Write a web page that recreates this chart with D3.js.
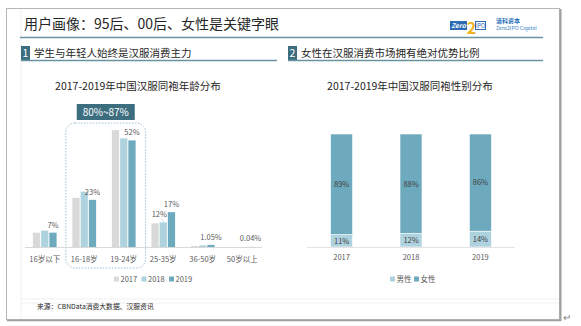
<!DOCTYPE html>
<html lang="zh">
<head>
<meta charset="utf-8">
<style>
  html, body { margin: 0; padding: 0; background: #fff; }
  svg { display: block; font-family: "Noto Sans CJK SC", "Noto Sans", sans-serif; }
</style>
<script src="https://d3js.org/d3.v7.min.js"></script>
</head>
<body>
<svg width="581" height="326"></svg>
<script>
// age distribution, share of users per age group (%)
var ageGroups = ['16岁以下', '16-18岁', '19-24岁', '25-35岁', '36-50岁', '50岁以上'];
var years = ['2017', '2018', '2019'];
var age2017 = [7, 24, 57, 11.5, 0.5, 0.02];
var age2018 = [8, 27, 53, 12, 0.8, 0.03];
var age2019 = [7, 23, 52, 17, 1.05, 0.04];
// which bars carry a value label: [group, year]
var labelled = [['16岁以下', '2019'], ['16-18岁', '2019'], ['19-24岁', '2019'],
  ['25-35岁', '2018'], ['25-35岁', '2019'], ['36-50岁', '2019'], ['50岁以上', '2019']];
var coreGroups = ['16-18岁', '19-24岁'];
var coreText = '80%~87%';

// gender split per year (%)
var genderYears = ['2017', '2018', '2019'];
var male = [11, 12, 14];
var female = [89, 88, 86];
var genders = ['男性', '女性'];

var svg = d3.select('svg');
var ink = '#262626', grey = '#595959', teal = '#3d6e80', rule = '#6a93a2';
var small = 7.5;
var yearColor = d3.scaleOrdinal().domain(years).range(['#d9d9d9', '#aed3df', '#6eaabe']);
var sexColor = d3.scaleOrdinal().domain(genders).range(['#aed3df', '#6eaabe']);

// slide frame + guide lines
svg.append('line').attr('x1', 21).attr('x2', 21).attr('y1', 8).attr('y2', 320)
  .attr('stroke', '#efefef');
[299, 303].forEach(function(y) {
  svg.append('line').attr('x1', 21).attr('x2', 559).attr('y1', y).attr('y2', y)
    .attr('stroke', '#f0f0f0');
});
svg.append('rect').attr('x', 6.5).attr('y', 8.5).attr('width', 553).attr('height', 311)
  .attr('fill', 'none').attr('stroke', '#b5b5b5');
svg.append('line').attr('x1', 560.5).attr('x2', 560.5).attr('y1', 9).attr('y2', 321)
  .attr('stroke', '#a0a0a0').attr('stroke-width', 2);
svg.append('line').attr('x1', 7).attr('x2', 561).attr('y1', 320.5).attr('y2', 320.5)
  .attr('stroke', '#a0a0a0').attr('stroke-width', 1.5);
svg.append('text').attr('x', 563).attr('y', 321).attr('font-size', 10)
  .attr('fill', '#7f7f7f').text('↵');

// heading
svg.append('text').attr('x', 24).attr('y', 29).attr('font-size', 14).attr('fill', ink)
  .text('用户画像：95后、00后、女性是关键字眼');
svg.append('line').attr('x1', 20).attr('x2', 543).attr('y1', 37.5).attr('y2', 37.5)
  .attr('stroke', rule).attr('stroke-width', 1.5);

// logo
var logo = svg.append('g').attr('transform', 'translate(450,21)');
logo.append('rect').attr('width', 17).attr('height', 9).attr('fill', '#2b6cb3');
logo.append('text').attr('x', 8.5).attr('y', 7).attr('text-anchor', 'middle')
  .attr('font-size', 6.5).attr('font-style', 'italic').attr('font-weight', 'bold')
  .attr('fill', '#fff').text('Zero');
logo.append('text').attr('x', 21.5).attr('y', 12.5).attr('text-anchor', 'middle')
  .attr('font-size', 16).attr('font-weight', 'bold').attr('fill', '#f0b323').text('2');
logo.append('rect').attr('x', 25.5).attr('y', 0.5).attr('width', 10).attr('height', 8)
  .attr('fill', '#fff').attr('stroke', '#2b6cb3');
logo.append('text').attr('x', 30.5).attr('y', 6.8).attr('text-anchor', 'middle')
  .attr('font-size', 5.5).attr('fill', '#2b6cb3').text('IPO');
svg.append('text').attr('x', 496).attr('y', 23).attr('font-size', 6).attr('font-weight', 'bold')
  .attr('fill', '#1f6fb8').text('清科资本');
svg.append('text').attr('x', 496).attr('y', 29.5).attr('font-size', 5.2)
  .attr('fill', '#3b82c4').text('Zero2IPO Capital');

// section headers
function section(x, x2, num, title) {
  svg.append('rect').attr('x', x).attr('y', 46).attr('width', 9).attr('height', 14).attr('fill', teal);
  svg.append('text').attr('x', x + 4.5).attr('y', 57).attr('text-anchor', 'middle')
    .attr('font-size', 10.5).attr('fill', '#fff').text(num);
  svg.append('text').attr('x', x + 13).attr('y', 57).attr('font-size', 10.5).attr('fill', ink).text(title);
  svg.append('line').attr('x1', x).attr('x2', x2).attr('y1', 60.5).attr('y2', 60.5)
    .attr('stroke', rule).attr('stroke-width', 1.5);
}
section(21, 277, '1', '学生与年轻人始终是汉服消费主力');
section(288, 543, '2', '女性在汉服消费市场拥有绝对优势比例');

// ---- left: age distribution ----
var base = 247;
var ageRows = ageGroups.map(function(g, i) {
  return { group: g, values: { '2017': age2017[i], '2018': age2018[i], '2019': age2019[i] } };
});
var x0 = d3.scaleBand().domain(ageGroups).range([25, 262]).paddingInner(0.4).paddingOuter(0.2);
var x1 = d3.scaleBand().domain(years).range([0, x0.bandwidth()]).paddingInner(0.12);
var y = d3.scaleLinear().domain([0, 60]).range([base, 124]);

svg.append('text').attr('x', 138).attr('y', 90).attr('text-anchor', 'middle')
  .attr('font-size', 10.5).attr('fill', ink).text('2017-2019年中国汉服同袍年龄分布');

// highlighted core age band
var bx = x0(coreGroups[0]) - 6.5, bx2 = x0(coreGroups[1]) + x0.bandwidth() + 10;
svg.append('rect').attr('x', bx).attr('y', 123).attr('width', bx2 - bx).attr('height', 145)
  .attr('rx', 9).attr('fill', 'none').attr('stroke', '#9cc2d0').attr('stroke-dasharray', '1.5,1.5');
svg.append('rect').attr('x', (bx + bx2) / 2 - 29).attr('y', 104).attr('width', 58).attr('height', 16)
  .attr('fill', teal);
svg.append('text').attr('x', (bx + bx2) / 2).attr('y', 116).attr('text-anchor', 'middle')
  .attr('font-size', 10).attr('fill', '#fff').text(coreText);

var groups = svg.append('g').selectAll('g').data(ageRows).enter().append('g')
  .attr('transform', function(d) { return 'translate(' + x0(d.group) + ',0)'; });
groups.selectAll('rect').data(function(d) {
  return years.map(function(yr) { return { year: yr, value: d.values[yr] }; });
}).enter().append('rect')
  .attr('x', function(d) { return x1(d.year); })
  .attr('y', function(d) { return y(d.value); })
  .attr('width', x1.bandwidth())
  .attr('height', function(d) { return base - y(d.value); })
  .attr('fill', function(d) { return yearColor(d.year); });

svg.append('line').attr('x1', 25).attr('x2', 262).attr('y1', base + 0.5).attr('y2', base + 0.5)
  .attr('stroke', '#d9d9d9');

// value labels; the 2018 one in 25-35 sits left with a short leader
labelled.forEach(function(l) {
  var i = ageGroups.indexOf(l[0]);
  var v = ageRows[i].values[l[1]];
  var cx = x0(l[0]) + x1(l[1]) + x1.bandwidth() / 2;
  var top = y(v);
  var lx = cx, ly = top - 5;
  if (l[1] === '2018') {
    lx = cx - 4; ly = top - 5;
    svg.append('line').attr('x1', cx - 2).attr('y1', top - 4).attr('x2', cx + 0.5).attr('y2', top - 0.5)
      .attr('stroke', '#bfbfbf').attr('stroke-width', 0.6);
  }
  if (v < 1) ly = base - 6;
  svg.append('text').attr('x', lx).attr('y', ly).attr('text-anchor', 'middle')
    .attr('font-size', small).attr('fill', grey).text(v + '%');
});

svg.append('g').selectAll('text').data(ageGroups).enter().append('text')
  .attr('x', function(d) { return x0(d) + x0.bandwidth() / 2; })
  .attr('y', 261.5).attr('text-anchor', 'middle').attr('font-size', small).attr('fill', grey)
  .text(function(d) { return d; });

var legL = svg.append('g').selectAll('g').data(years).enter().append('g')
  .attr('transform', function(d, i) { return 'translate(' + (114 + i * 27.5) + ',276.5)'; });
legL.append('rect').attr('width', 5).attr('height', 5).attr('fill', function(d) { return yearColor(d); });
legL.append('text').attr('x', 6.5).attr('y', 5.3).attr('font-size', small).attr('fill', grey)
  .text(function(d) { return d; });

// ---- right: gender split ----
var genderRows = genderYears.map(function(yr, i) { return { year: yr, '男性': male[i], '女性': female[i] }; });
var stack = d3.stack().keys(genders)(genderRows);
var gx = d3.scaleBand().domain(genderYears).range([307, 515]).paddingInner(0.683).paddingOuter(0.34);
var gy = d3.scaleLinear().domain([0, 100]).range([base, 134]);

svg.append('text').attr('x', 410).attr('y', 90).attr('text-anchor', 'middle')
  .attr('font-size', 10.5).attr('fill', ink).text('2017-2019年中国汉服同袍性别分布');

var layers = svg.append('g').selectAll('g').data(stack).enter().append('g')
  .attr('fill', function(d) { return sexColor(d.key); });
layers.selectAll('rect').data(function(d) { return d; }).enter().append('rect')
  .attr('x', function(d) { return gx(d.data.year); })
  .attr('y', function(d) { return gy(d[1]); })
  .attr('width', gx.bandwidth())
  .attr('height', function(d) { return gy(d[0]) - gy(d[1]); })
  .attr('stroke', '#fff').attr('stroke-width', 0.6);
layers.selectAll('text').data(function(d) { return d; }).enter().append('text')
  .attr('x', function(d) { return gx(d.data.year) + gx.bandwidth() / 2; })
  .attr('y', function(d) { return (gy(d[0]) + gy(d[1])) / 2 + 2.8; })
  .attr('text-anchor', 'middle').attr('font-size', small).attr('fill', '#404040')
  .text(function(d) { return (d[1] - d[0]) + '%'; });

svg.append('line').attr('x1', 307).attr('x2', 515).attr('y1', base + 0.5).attr('y2', base + 0.5)
  .attr('stroke', '#e3e3e3');
svg.append('g').selectAll('text').data(genderYears).enter().append('text')
  .attr('x', function(d) { return gx(d) + gx.bandwidth() / 2; })
  .attr('y', 260).attr('text-anchor', 'middle').attr('font-size', small).attr('fill', grey)
  .text(function(d) { return d; });

var legR = svg.append('g').selectAll('g').data(genders).enter().append('g')
  .attr('transform', function(d, i) { return 'translate(' + (390 + i * 24) + ',276.5)'; });
legR.append('rect').attr('width', 5).attr('height', 5).attr('fill', function(d) { return sexColor(d); });
legR.append('text').attr('x', 6.5).attr('y', 5.3).attr('font-size', small).attr('fill', grey)
  .text(function(d) { return d; });

// source note
svg.append('text').attr('x', 37).attr('y', 308.5).attr('font-size', 6.8).attr('fill', ink)
  .text('来源：CBNData消费大数据、汉服资讯');
</script>
</body>
</html>
